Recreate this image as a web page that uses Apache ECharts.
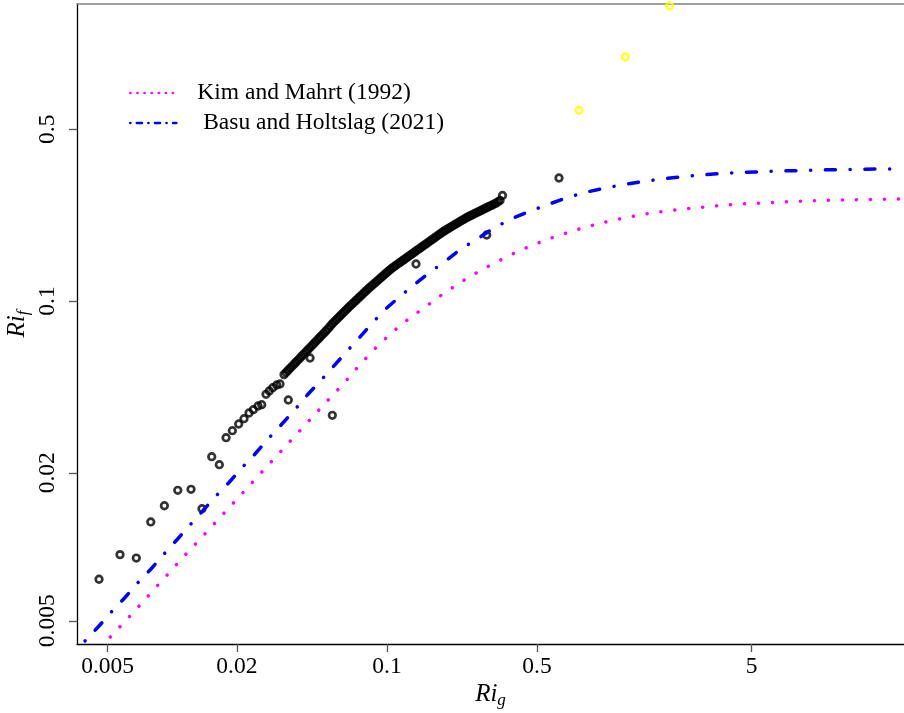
<!DOCTYPE html>
<html>
<head>
<meta charset="utf-8">
<script src="https://cdn.jsdelivr.net/npm/echarts@6/dist/echarts.min.js"></script>
<style>
  html, body { margin: 0; padding: 0; background: #fff; }
  #chart { width: 904px; height: 713px; }
</style>
</head>
<body>
<div id="chart"></div>
<script>
// Axis ticks (log scales)
const xTicks = [0.005, 0.02, 0.1, 0.5, 5];
const xTickLabels = ['0.005', '0.02', '0.1', '0.5', '5'];
const yTicks = [0.005, 0.02, 0.1, 0.5];
const yTickLabels = ['0.005', '0.02', '0.1', '0.5'];
const xRange = [0.0036, 25.61];
const yRange = [0.004023, 1.6154];

// Observations: gradient Richardson number vs flux Richardson number
const obsRig = [
  0.00456, 0.00571, 0.00680, 0.00794, 0.00919, 0.01061, 0.01223, 0.01376, 0.01527, 0.01657,
  0.01781, 0.01905, 0.02039, 0.02159, 0.02278, 0.02385, 0.02509, 0.02610, 0.02734, 0.02832,
  0.02938, 0.03066, 0.03177, 0.03472,
  0.033157, 0.033884, 0.034610, 0.035369, 0.036127, 0.036919, 0.037711, 0.038537, 0.039363, 0.040226,
  0.041089, 0.041990, 0.042891, 0.043831, 0.044771, 0.045752, 0.046733, 0.047758, 0.048782, 0.049851,
  0.050920, 0.052036, 0.053152, 0.054317, 0.055482, 0.056698, 0.057914, 0.059184, 0.060454, 0.061779,
  0.063104, 0.064487, 0.065870, 0.067314, 0.068757, 0.070264, 0.071771, 0.073344, 0.074917, 0.076559,
  0.078201, 0.079915, 0.081629, 0.083419, 0.085209, 0.087077, 0.088944, 0.090894, 0.092843, 0.094878,
  0.096912, 0.099034, 0.101156, 0.103373, 0.105590, 0.107904, 0.110218, 0.112634, 0.115049, 0.117571,
  0.120093, 0.122725, 0.125357, 0.128104, 0.130850, 0.133718, 0.136586, 0.139580, 0.142573, 0.145698,
  0.148823, 0.152085, 0.155347, 0.158754, 0.162160, 0.165714, 0.169267, 0.172976, 0.176685, 0.180558,
  0.184430, 0.188472, 0.192514, 0.196733, 0.200951, 0.205356, 0.209760, 0.214356, 0.218951, 0.223752,
  0.228553, 0.233563, 0.238572, 0.243800, 0.249028, 0.254485, 0.259942, 0.265641, 0.271340, 0.277286,
  0.283231, 0.289439, 0.295646, 0.302129, 0.308612, 0.315377, 0.322141, 0.329202, 0.336262,
  0.04383, 0.05566, 0.13658, 0.29148, 0.34536, 0.63302
];
const obsRif = [
  0.00738, 0.00929, 0.00900, 0.01262, 0.01469, 0.01698, 0.01714, 0.01429, 0.02326, 0.02158,
  0.02779, 0.02967, 0.03159, 0.03320, 0.03502, 0.03613, 0.03740, 0.03786, 0.04172, 0.04303,
  0.04439, 0.04553, 0.04595, 0.03956,
  0.050184, 0.051191, 0.052197, 0.053219, 0.054240, 0.055329, 0.056418, 0.057523, 0.058627, 0.059804,
  0.060980, 0.062204, 0.063428, 0.064670, 0.065912, 0.067235, 0.068557, 0.069932, 0.071307, 0.072704,
  0.074100, 0.075587, 0.077074, 0.078847, 0.080619, 0.082158, 0.083696, 0.085294, 0.086891, 0.088550,
  0.090209, 0.091931, 0.093653, 0.095352, 0.097050, 0.098807, 0.100563, 0.102386, 0.104208, 0.106096,
  0.107984, 0.109941, 0.111897, 0.113762, 0.115627, 0.117555, 0.119482, 0.121474, 0.123465, 0.125523,
  0.127581, 0.129708, 0.131834, 0.133966, 0.136097, 0.137906, 0.139714, 0.141639, 0.143563, 0.145471,
  0.147378, 0.149408, 0.151437, 0.153451, 0.155464, 0.157606, 0.159747, 0.161870, 0.163992, 0.166251,
  0.168509, 0.170748, 0.172987, 0.175369, 0.177751, 0.180114, 0.182477, 0.184990, 0.187503, 0.189995,
  0.192487, 0.194675, 0.196862, 0.199101, 0.201340, 0.203629, 0.205917, 0.208257, 0.210597, 0.212992,
  0.215386, 0.217629, 0.219872, 0.221952, 0.224031, 0.226148, 0.228265, 0.230315, 0.232364, 0.234562,
  0.236760, 0.238997, 0.241234, 0.243403, 0.245571, 0.247892, 0.250212, 0.253298, 0.256383,
  0.05863, 0.03428, 0.14143, 0.18560, 0.26866, 0.31652
];

// Observations flagged separately (yellow)
const flagRig = [0.7845, 1.289, 2.075];
const flagRif = [0.5968, 0.9833, 1.586];

// Kim and Mahrt (1992)
const kmRig = [
  0.005147, 0.006338, 0.007769, 0.009526, 0.01168, 0.01436, 0.01767, 0.02175, 0.02667, 0.03281,
  0.04035, 0.04948, 0.06092, 0.07435, 0.09156, 0.1147, 0.1467, 0.1871, 0.2411, 0.3142,
  0.4136, 0.5467, 0.7303, 0.9795, 1.317, 1.778, 2.401, 3.242, 4.396, 5.955,
  8.067, 10.94, 14.82, 20.07, 25.61
];
const kmRif = [
  0.004295, 0.005214, 0.006349, 0.007728, 0.009410, 0.01141, 0.01389, 0.01691, 0.02053, 0.02500,
  0.03043, 0.03694, 0.04480, 0.05475, 0.06641, 0.07935, 0.09305, 0.1085, 0.1252, 0.1423,
  0.1602, 0.1771, 0.1927, 0.2071, 0.2190, 0.2295, 0.2367, 0.2428, 0.2481, 0.2511,
  0.2544, 0.2569, 0.2583, 0.2593, 0.2600
];

// Basu and Holtslag (2021)
const bhRig = [
  0.003924, 0.004536, 0.005185, 0.005995, 0.006876, 0.007963, 0.009127, 0.01049, 0.01201, 0.01384,
  0.01587, 0.01829, 0.02106, 0.02429, 0.02793, 0.03211, 0.03703, 0.04242, 0.04880, 0.05607,
  0.06448, 0.07411, 0.08519, 0.09849, 0.1147, 0.1352, 0.1592, 0.1885, 0.2220, 0.2656,
  0.3152, 0.3784, 0.4605, 0.5626, 0.6823, 0.8321, 1.023, 1.258, 1.542, 1.891,
  2.335, 2.872, 3.532, 4.363, 5.365, 6.630, 8.128, 10.07, 12.35, 15.30,
  18.76, 25.61
];
const bhRif = [
  0.004139, 0.004739, 0.005413, 0.006191, 0.007105, 0.008122, 0.009322, 0.01066, 0.01219, 0.01398,
  0.01599, 0.01818, 0.02092, 0.02385, 0.02745, 0.03130, 0.03592, 0.04134, 0.04714, 0.05389,
  0.06185, 0.07071, 0.08115, 0.09279, 0.1041, 0.1173, 0.1312, 0.1461, 0.1632, 0.1796,
  0.1982, 0.2155, 0.2317, 0.2470, 0.2624, 0.2763, 0.2874, 0.2973, 0.3058, 0.3135,
  0.3195, 0.3255, 0.3295, 0.3333, 0.3348, 0.3380, 0.3389, 0.3412, 0.3421, 0.3434,
  0.3444, 0.3444
];

const KM_NAME = 'Kim and Mahrt (1992)';
const BH_NAME = ' Basu and Holtslag (2021)';
const FONT = '"Liberation Serif", "Times New Roman", Times, serif';
const FS = 23.5;

function pairs(xs, ys) { return xs.map((x, i) => [x, ys[i]]); }
function tickFormatter(ticks, labels) {
  return function (v) {
    for (let i = 0; i < ticks.length; i++) {
      if (Math.abs(Math.log10(v / ticks[i])) < 1e-6) return labels[i];
    }
    return '';
  };
}

const nameRich = {
  r: { fontFamily: FONT, fontStyle: 'italic', fontSize: 25, color: '#000', lineHeight: 30, verticalAlign: 'middle' },
  s: { fontFamily: FONT, fontStyle: 'italic', fontSize: 17, color: '#000', lineHeight: 17, verticalAlign: 'bottom' }
};

const circleStyle = (c) => ({ color: 'rgba(0,0,0,0)', borderColor: c, borderWidth: 2.7 });

const chart = echarts.init(document.getElementById('chart'), null, { renderer: 'canvas' });
chart.setOption({
  animation: false,
  backgroundColor: '#fff',
  grid: { left: 77, right: 0, top: 4, bottom: 69, containLabel: false, outerBoundsMode: 'none' },
  legend: {
    orient: 'vertical',
    left: 124,
    top: 76,
    itemWidth: 46,
    itemHeight: 14,
    itemGap: 6,
    selectedMode: false,
    textStyle: { fontFamily: FONT, fontSize: FS, color: '#000', lineHeight: 24, padding: [0, 0, 0, 16] },
    itemStyle: { opacity: 0 },
    data: [
      { name: KM_NAME, lineStyle: { color: '#ff00ff', width: 2.6, type: [0.1, 7], cap: 'round' } },
      { name: BH_NAME, lineStyle: { color: '#0000ff', width: 2.6, type: [0.1, 6.5, 5, 6.5], cap: 'round' } }
    ]
  },
  xAxis: [
    {
      type: 'log', logBase: 10, min: xRange[0], max: xRange[1], position: 'bottom',
      name: '{r|Ri}{s|g}', nameLocation: 'middle', nameGap: 35, nameMoveOverlap: false,
      nameTextStyle: { rich: nameRich },
      axisLine: { show: true, lineStyle: { color: '#000', width: 1.3 } },
      axisTick: { show: true, customValues: xTicks, length: 8, lineStyle: { color: '#555', width: 1.3 } },
      axisLabel: {
        show: true, customValues: xTicks, formatter: tickFormatter(xTicks, xTickLabels),
        margin: 11, fontFamily: FONT, fontSize: FS, color: '#000'
      },
      splitLine: { show: false }, minorTick: { show: false }
    },
    {
      type: 'log', logBase: 10, min: xRange[0], max: xRange[1], position: 'top',
      axisLine: { show: true, lineStyle: { color: '#808080', width: 1.5 } },
      axisTick: { show: false }, axisLabel: { show: false }, splitLine: { show: false }
    }
  ],
  yAxis: {
    type: 'log', logBase: 10, min: yRange[0], max: yRange[1],
    name: '{r|Ri}{s|f}', nameLocation: 'middle', nameGap: 45, nameMoveOverlap: false,
    nameTextStyle: { rich: nameRich },
    axisLine: { show: true, lineStyle: { color: '#000', width: 1.3 } },
    axisTick: { show: true, customValues: yTicks, length: 8, lineStyle: { color: '#555', width: 1.3 } },
    axisLabel: {
      show: true, customValues: yTicks, formatter: tickFormatter(yTicks, yTickLabels),
      rotate: 90, margin: 17, fontFamily: FONT, fontSize: FS, color: '#000'
    },
    splitLine: { show: false }, minorTick: { show: false }
  },
  series: [
    {
      name: 'observed', type: 'scatter', xAxisIndex: 0,
      data: pairs(obsRig, obsRif),
      symbol: 'circle', symbolSize: 6.6,
      itemStyle: circleStyle('#000'),
      silent: true, z: 2
    },
    {
      name: KM_NAME, type: 'line', xAxisIndex: 0,
      data: pairs(kmRig, kmRif),
      symbol: 'none', showSymbol: false, smooth: false,
      lineStyle: { color: '#ff00ff', width: 3.5, type: [0.1, 13.9], cap: 'round' },
      itemStyle: { color: '#ff00ff' },
      silent: true, z: 3
    },
    {
      name: BH_NAME, type: 'line', xAxisIndex: 0,
      data: pairs(bhRig, bhRif),
      symbol: 'none', showSymbol: false, smooth: false,
      lineStyle: { color: '#0000ff', width: 3.5, type: [0.1, 14.7, 10, 14.7], cap: 'round' },
      itemStyle: { color: '#0000ff' },
      silent: true, z: 3
    },
    {
      name: 'flagged', type: 'scatter', xAxisIndex: 0,
      data: pairs(flagRig, flagRif),
      symbol: 'circle', symbolSize: 6.6, clip: false,
      itemStyle: circleStyle('#ffff00'),
      silent: true, z: 4
    }
  ]
});
</script>
</body>
</html>
